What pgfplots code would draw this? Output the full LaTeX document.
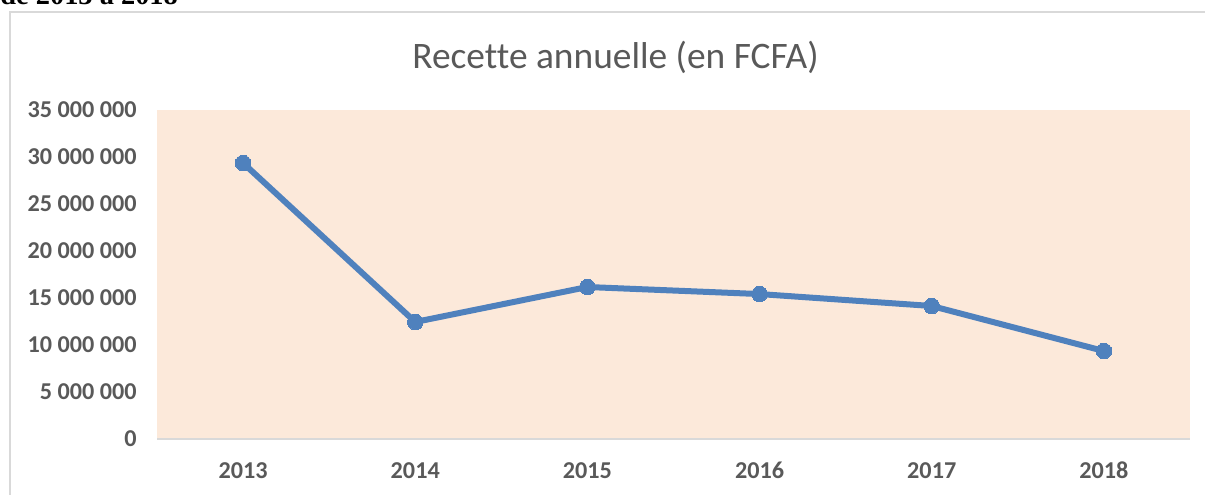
\documentclass[border=0pt]{standalone}
\usepackage{pgfplots}
\pgfplotsset{compat=1.18}
\usepackage{fontspec}
\setmainfont[Ligatures={NoCommon}]{Carlito}
\newfontfamily\serifb{Liberation Serif}
\definecolor{peach}{HTML}{FCE9DA}
\definecolor{lineblue}{HTML}{4F81BD}
\definecolor{txtgray}{HTML}{595959}
\definecolor{framegray}{HTML}{D9D9D9}
\begin{document}
\begin{tikzpicture}[x=0.5pt,y=0.5pt]
\useasboundingbox (0,0) rectangle (1205,494);
\draw[framegray, line width=1pt] (1215,-10) -- (10,-10) -- (10,482) -- (1215,482);
\node[anchor=base west, inner sep=0pt, font=\serifb\bfseries\fontsize{14.2}{16}\selectfont] at (0,489) {de 2013 à 2018};
\node[font=\fontsize{18.7}{20}\selectfont, text=txtgray] at (615.5,437) {Recette annuelle (en FCFA)};
\begin{axis}[
  at={(78.5pt,27.5pt)}, anchor=south west,
  scale only axis, width=516.5pt, height=164.5pt,
  xmin=-0.5, xmax=5.5, ymin=0, ymax=35000000,
  axis background/.style={fill=peach},
  axis lines=left,
  x axis line style={draw=framegray, line width=1pt, -},
  y axis line style={draw=none},
  major tick length=0pt,
  xtick={0,1,2,3,4,5},
  xticklabels={2013,2014,2015,2016,2017,2018},
  ytick={0,5000000,10000000,15000000,20000000,25000000,30000000,35000000},
  yticklabels={0,5 000 000,10 000 000,15 000 000,20 000 000,25 000 000,30 000 000,35 000 000},
  scaled y ticks=false,
  tick label style={font=\bfseries\fontsize{12.1}{14}\selectfont, text=txtgray},
  yticklabel style={anchor=east, inner sep=0pt, xshift=-10pt},
  xticklabel style={anchor=base, inner sep=0pt, yshift=-19.6pt},
  clip=false,
]
\addplot[color=lineblue, line width=3pt, mark=*, mark size=3.9pt, mark options={fill=lineblue, draw=lineblue, line width=0pt}]
  coordinates {(0,29360000) (1,12450000) (2,16170000) (3,15420000) (4,14150000) (5,9360000)};
\end{axis}
\end{tikzpicture}
\end{document}
